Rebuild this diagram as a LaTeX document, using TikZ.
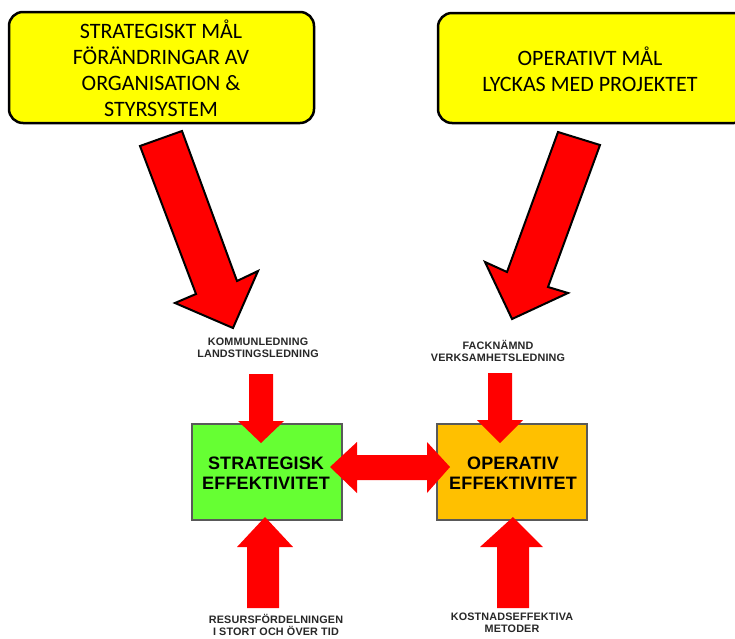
\documentclass[tikz,border=0pt]{standalone}
\usepackage{fontspec}
\setmainfont{Carlito}
\newfontfamily\lblfont[LetterSpace=1.5]{Liberation Sans}
\newfontfamily\bigfont[LetterSpace=0.8]{Liberation Sans}
\definecolor{boxyellow}{RGB}{255,255,0}
\definecolor{boxgreen}{RGB}{102,255,51}
\definecolor{boxorange}{RGB}{255,192,0}
\definecolor{arrowred}{RGB}{255,0,0}
\definecolor{lbltext}{RGB}{40,40,40}
\tikzset{
  goalbox/.style={draw=black, line width=2.5pt, fill=boxyellow, rounded corners=14pt},
  effbox/.style={draw=black!65, line width=1.2pt},
  bigarrow/.style={draw=black, line width=2pt, fill=arrowred, line join=miter},
  smallarrow/.style={fill=arrowred},
  goaltext/.style={font=\fontsize{22}{26}\selectfont, align=center, text=black},
  efftext/.style={font=\bigfont\bfseries\fontsize{18}{20}\selectfont, align=center, text=black},
  lbl/.style={font=\lblfont\bfseries\fontsize{10.8}{12.5}\selectfont, align=center, text=lbltext, inner sep=0pt}
}
\begin{document}
\begin{tikzpicture}[x=1pt,y=-1pt]
\useasboundingbox (0,0) rectangle (735,638);
\fill[white] (0,0) rectangle (735,638);
% yellow goal boxes
\draw[goalbox] (9,12) rectangle (314,123);
\node[goaltext] (sgoal) at (161,68) {STRATEGISKT MÅL\\FÖRÄNDRINGAR AV\\ORGANISATION \&\\STYRSYSTEM};
\draw[goalbox] (438,13) rectangle (748,123);
\node[goaltext] (ogoal) at (590,69) {OPERATIVT MÅL\\LYCKAS MED PROJEKTET};
% big diagonal arrows
\draw[bigarrow] (140,146) -- (182,131) -- (237,281) -- (258,271) -- (233,328) -- (175,303) -- (196,294) -- cycle;
\draw[bigarrow] (558,132) -- (600,145) -- (548,287) -- (568,293) -- (512,319) -- (485,262) -- (507,272) -- cycle;
% labels
\node[lbl] (kl) at (258,348) {KOMMUNLEDNING\\LANDSTINGSLEDNING};
\node[lbl] (fv) at (498,351) {FACKNÄMND\\VERKSAMHETSLEDNING};
\node[lbl] (rf) at (276,625) {RESURSFÖRDELNINGEN\\I STORT OCH ÖVER TID};
\node[lbl] (km) at (512,623) {KOSTNADSEFFEKTIVA\\METODER};
% effect boxes
\draw[effbox, fill=boxgreen] (192,424) rectangle (342,520);
\node[efftext] (seff) at (266,473) {STRATEGISK\\EFFEKTIVITET};
\draw[effbox, fill=boxorange] (437,424) rectangle (587,520);
\node[efftext] (oeff) at (513,473) {OPERATIV\\EFFEKTIVITET};
% small arrows
\fill[smallarrow] (249,374) -- (273,374) -- (273,421) -- (284,421) -- (261,443) -- (238,421) -- (249,421) -- cycle;
\fill[smallarrow] (488,373) -- (512,373) -- (512,420) -- (523,420) -- (500,443) -- (477,420) -- (488,420) -- cycle;
\fill[smallarrow] (247,608) -- (279,608) -- (279,547) -- (293,547) -- (265,517) -- (237,547) -- (247,547) -- cycle;
\fill[smallarrow] (497,608) -- (529,608) -- (529,547) -- (543,547) -- (513,517) -- (480,547) -- (497,547) -- cycle;
% double arrow
\fill[smallarrow] (330,467) -- (357,442) -- (357,455) -- (427,455) -- (427,442) -- (450,467) -- (427,493) -- (427,480) -- (357,480) -- (357,493) -- cycle;
\end{tikzpicture}
\end{document}
